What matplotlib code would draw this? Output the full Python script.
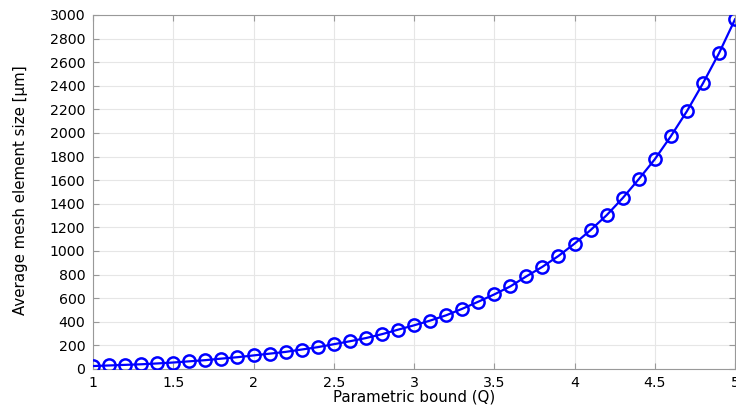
import matplotlib
matplotlib.use("Agg")
import matplotlib.pyplot as plt
import numpy as np

# Parametric sweep of the bound Q and resulting mean element size
q_values = [1.0, 1.1, 1.2, 1.3, 1.4, 1.5, 1.6, 1.7, 1.8, 1.9,
            2.0, 2.1, 2.2, 2.3, 2.4, 2.5, 2.6, 2.7, 2.8, 2.9,
            3.0, 3.1, 3.2, 3.3, 3.4, 3.5, 3.6, 3.7, 3.8, 3.9,
            4.0, 4.1, 4.2, 4.3, 4.4, 4.5, 4.6, 4.7, 4.8, 4.9, 5.0]
mesh_size = [25, 30, 35, 40, 47, 55, 65, 75, 88, 100,
             115, 130, 145, 165, 185, 210, 235, 262, 295, 333,
             370, 410, 455, 510, 570, 632, 700, 785, 866, 958,
             1062, 1177, 1303, 1448, 1608, 1777, 1972, 2184, 2420, 2675, 2963]

x_ticks = [1, 1.5, 2, 2.5, 3, 3.5, 4, 4.5, 5]
x_tick_labels = ["1", "1.5", "2", "2.5", "3", "3.5", "4", "4.5", "5"]
y_ticks = list(range(0, 3001, 200))

fig = plt.figure(figsize=(7.36, 4.05), dpi=100)
ax = fig.add_axes([93 / 736, 1 - 369 / 405, 642 / 736, 354 / 405])

ax.plot(q_values, mesh_size, color=(0, 0, 1), linewidth=1.6,
        marker="o", markersize=8.8, markerfacecolor="none",
        markeredgecolor=(0, 0, 1), markeredgewidth=1.8, zorder=3)

ax.set_xlim(1, 5)
ax.set_ylim(0, 3000)
ax.set_xticks(x_ticks)
ax.set_xticklabels(x_tick_labels)
ax.set_yticks(y_ticks)
ax.grid(True, color="#e6e6e6", linewidth=0.8)
ax.set_axisbelow(True)

for s in ax.spines.values():
    s.set_color("#999999")
    s.set_linewidth(0.8)
ax.tick_params(direction="in", length=4, color="#999999", labelsize=10.2,
               top=True, right=True, labelcolor="black")
ax.tick_params(axis="x", pad=5)
ax.tick_params(axis="y", pad=5.5)

ax.set_xlabel("Parametric bound (Q)", fontsize=10.8, labelpad=0)
ax.set_ylabel("Average mesh element size [µm]", fontsize=10.8)
ax.yaxis.set_label_coords(-0.101, 0.505)

fig.savefig("out.png", dpi=100)
